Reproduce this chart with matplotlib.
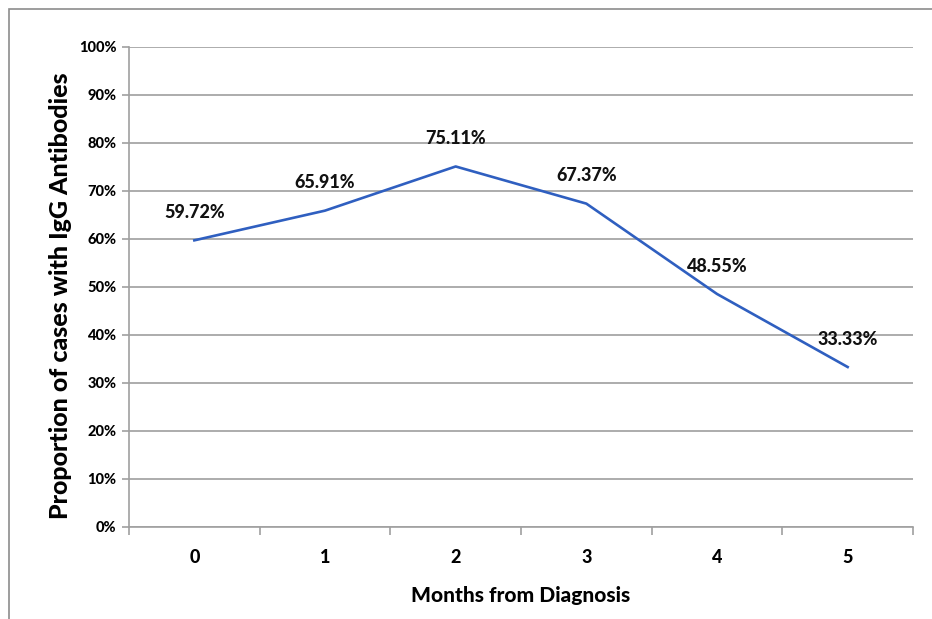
import matplotlib
matplotlib.use("Agg")
import matplotlib.pyplot as plt
from matplotlib.patches import Rectangle
from matplotlib.ticker import FixedLocator

plt.rcParams['font.family'] = ['Lato', 'DejaVu Sans']
W = 'black'

months = [0, 1, 2, 3, 4, 5]
proportions = [59.72, 65.91, 75.11, 67.37, 48.55, 33.33]
labels = ["59.72%", "65.91%", "75.11%", "67.37%", "48.55%", "33.33%"]
yticks = [0, 10, 20, 30, 40, 50, 60, 70, 80, 90, 100]

fig = plt.figure(figsize=(9.32, 6.19), dpi=100)
ax = fig.add_axes([129/932, 1-527/619, (913-129)/932, (527-47)/619])

# outer border
fig.patches.append(Rectangle((9/932, -0.1), 1.2, 1-9/619+0.1, transform=fig.transFigure,
                             fill=False, edgecolor='#8c8c8c', linewidth=1.2))

ax.plot(months, proportions, color='#2f5fc0', linewidth=1.9, zorder=3)
for x, y, t in zip(months, proportions, labels):
    ax.annotate(t, (x, y), xytext=(0, 20), textcoords='offset points', ha='center', va='center',
                fontsize=13, fontweight=W, color='#111111', zorder=4)

ax.set_xlim(-0.5, 5.5)
ax.set_ylim(0, 100)
ax.set_yticks(yticks)
ax.set_yticklabels([f"{v}%" for v in yticks], fontsize=10.5, fontweight=W)
ax.set_xticks(months)
ax.set_xticklabels([str(m) for m in months], fontsize=13, fontweight=W)
ax.xaxis.set_minor_locator(FixedLocator([i - 0.5 for i in range(7)]))
ax.tick_params(axis='x', which='major', length=0, pad=16)
ax.tick_params(axis='x', which='minor', length=6, color='#a0a0a0', width=1.2)
ax.tick_params(axis='y', length=5, color='#a0a0a0', width=1.2, pad=4)
ax.grid(axis='y', color='#a6a6a6', linewidth=1.3)
ax.set_axisbelow(True)
for s in ['top', 'right']:
    ax.spines[s].set_visible(False)
for s in ['left', 'bottom']:
    ax.spines[s].set_color('#a0a0a0')
    ax.spines[s].set_linewidth(1.2)

ax.set_xlabel("Months from Diagnosis", fontsize=15, fontweight=W, labelpad=14)
ax.set_ylabel("Proportion of cases with IgG Antibodies", fontsize=18, fontweight=W, labelpad=9)
ax.yaxis.set_label_coords(-57/784, 0.482)

fig.savefig("out.png", dpi=100)
